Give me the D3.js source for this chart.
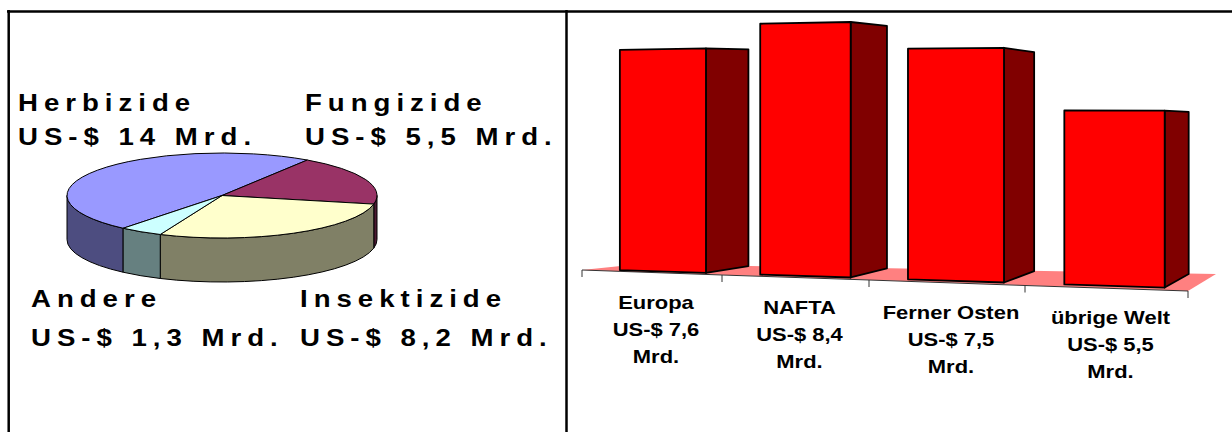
<!DOCTYPE html>
<html>
<head>
<meta charset="utf-8">
<script src="https://cdn.jsdelivr.net/npm/d3@7/dist/d3.min.js"></script>
<style>
  body { margin: 0; background: #fff; }
  svg { display: block; }
  text { font-family: "Liberation Sans", Arial, sans-serif; font-weight: bold; fill: #000; }
</style>
</head>
<body>
<div id="chart"></div>
<script>
// pie: world market by product group
const pieNames = ['Herbizide', 'Fungizide', 'Insektizide', 'Andere'];
const pieValues = [14, 5.5, 8.2, 1.3];
const pieTopColors = ['#9999ff', '#993366', '#ffffcc', '#ccffff'];
const pieSideColors = ['#4d4d80', '#4d1a33', '#808066', '#668080'];

// bars: market by region
const regions = ['Europa', 'NAFTA', 'Ferner Osten', 'übrige Welt'];
const regionValues = [7.6, 8.4, 7.5, 5.5];

const width = 1232, height = 432;
const fmt = v => String(v).replace('.', ',');

const svg = d3.select('#chart').append('svg')
    .attr('width', width)
    .attr('height', height);

// frame lines
const frame = svg.append('g').attr('stroke', '#000').attr('stroke-width', 2.5);
frame.append('line').attr('x1', 7).attr('x2', width).attr('y1', 11.5).attr('y2', 11.5);
frame.append('line').attr('x1', 8.7).attr('x2', 8.7).attr('y1', 10).attr('y2', height);
frame.append('line').attr('x1', 566.5).attr('x2', 566.5).attr('y1', 10).attr('y2', height);

// ---------- 3D pie ----------
const pieGeo = {cx: 222, cy: 195.5, rx: 155, ry: 42.5, depth: 44};
const firstAngle = 3.833; // Herbizide starts here (clockwise from 12 o'clock)

const arcs = d3.pie().sort(null)
    .startAngle(firstAngle)
    .endAngle(firstAngle + 2 * Math.PI)(pieValues);

function ellPt(a, dy) {
    return [pieGeo.cx + pieGeo.rx * Math.sin(a), pieGeo.cy - pieGeo.ry * Math.cos(a) + (dy || 0)];
}
const arcTo = (pt, large, sweep) => ` A ${pieGeo.rx} ${pieGeo.ry} 0 ${large} ${sweep} ${pt[0]} ${pt[1]}`;

const pieG = svg.append('g');

// side walls (only the front half is visible)
arcs.forEach(function (d, i) {
    for (let k = -1; k <= 1; k++) {
        const lo = Math.PI / 2 + 2 * Math.PI * k, hi = 3 * Math.PI / 2 + 2 * Math.PI * k;
        const s = Math.max(d.startAngle, lo), e = Math.min(d.endAngle, hi);
        if (e - s <= 0.001) continue;
        const t0 = ellPt(s), t1 = ellPt(e), b1 = ellPt(e, pieGeo.depth), b0 = ellPt(s, pieGeo.depth);
        pieG.append('path')
            .attr('d', `M${t0[0]},${t0[1]}` + arcTo(t1, 0, 1) + ` L${b1[0]},${b1[1]}` + arcTo(b0, 0, 0) + ' Z')
            .attr('fill', pieSideColors[i])
            .attr('stroke', '#000')
            .attr('stroke-width', 1);
    }
});

// top faces
arcs.forEach(function (d, i) {
    const t0 = ellPt(d.startAngle), t1 = ellPt(d.endAngle);
    const large = (d.endAngle - d.startAngle) > Math.PI ? 1 : 0;
    pieG.append('path')
        .attr('d', `M${pieGeo.cx},${pieGeo.cy} L${t0[0]},${t0[1]}` + arcTo(t1, large, 1) + ' Z')
        .attr('fill', pieTopColors[i])
        .attr('stroke', '#000')
        .attr('stroke-width', 1);
});

// pie labels (name + value), wide spaced like the original
const pieLabelPos = [[18, 111, 33.5], [305, 111, 33.5], [300, 307, 39], [31, 307, 39]];
pieNames.forEach(function (name, i) {
    const pos = pieLabelPos[i];
    [name, `US-$ ${fmt(pieValues[i])} Mrd.`].forEach(function (line, j) {
        svg.append('g')
            .attr('transform', `translate(${pos[0]},${pos[1] + j * pos[2]}) scale(1.2,1)`)
            .append('text')
            .style('font-size', '23px')
            .style('letter-spacing', '5px')
            .text(line);
    });
});

// ---------- 3D bars ----------
const band = d3.scaleBand().domain(regions).range([0, 1]);
const ticksU = [0, 0.25, 0.5, 0.75, 1];
// front edge of the floor, slightly in perspective
const xAlong = d3.scaleLinear().domain(ticksU).range([582, 722, 869, 1025, 1188]);
const yAlong = d3.scaleLinear().domain(ticksU).range([270, 275, 280, 285.5, 291]);
// depth direction on screen
const depthX = d3.scaleLinear().domain([0, 1]).range([58, 28]);
const depthY = d3.scaleLinear().domain([0, 1]).range([-6, -17]);
// value -> pixels, grows toward the viewer on the right, shrinks with depth
const yScale = d3.scaleLinear().domain([0, 10]).range([0, 289]);
const persp = d3.scaleLinear().domain([0, 1]).range([1, 1.136]);
const shrink = d3.scaleLinear().domain([0, 1]).range([0.025, 0.104]);

function proj(u, v, h) {
    return [
        xAlong(u) + depthX(u) * v,
        yAlong(u) + depthY(u) * v - yScale(h) * persp(u) * (1 - shrink(u) * v)
    ];
}
const poly = pts => 'M' + pts.map(p => p.join(',')).join('L') + 'Z';

const barG = svg.append('g');

// floor
barG.append('path')
    .attr('d', poly([proj(0, 0, 0), proj(1, 0, 0), proj(1, 1, 0), proj(0, 1, 0)]))
    .attr('fill', '#ff8080');

// axis along the front edge with ticks
barG.append('path')
    .attr('d', 'M' + ticksU.map(u => proj(u, 0, 0).join(',')).join('L'))
    .attr('fill', 'none')
    .attr('stroke', '#333')
    .attr('stroke-width', 1);
barG.selectAll('.tick')
    .data(ticksU)
    .enter().append('line')
    .attr('class', 'tick')
    .attr('x1', u => proj(u, 0, 0)[0])
    .attr('x2', u => proj(u, 0, 0)[0])
    .attr('y1', u => proj(u, 0, 0)[1])
    .attr('y2', u => proj(u, 0, 0)[1] + 7)
    .attr('stroke', '#333')
    .attr('stroke-width', 1);

const bw = band.bandwidth();
const v0 = 0.15, v1 = 0.97;

regions.forEach(function (r, i) {
    const h = regionValues[i];
    const u0 = band(r) + 0.21 * bw, u1 = band(r) + 0.83 * bw;

    // side face
    barG.append('path')
        .attr('d', poly([proj(u1, v0, 0), proj(u1, v1, 0), proj(u1, v1, h), proj(u1, v0, h)]))
        .attr('fill', '#800000')
        .attr('stroke', '#000')
        .attr('stroke-width', 1.8)
        .attr('stroke-linejoin', 'round');

    // front face
    barG.append('path')
        .attr('d', poly([proj(u0, v0, 0), proj(u1, v0, 0), proj(u1, v0, h), proj(u0, v0, h)]))
        .attr('fill', '#ff0000')
        .attr('stroke', '#000')
        .attr('stroke-width', 1.8)
        .attr('stroke-linejoin', 'round');

    // category label under the floor
    const uc = band(r) + bw / 2;
    const lx = xAlong(uc) + 4, ly = yAlong(uc) + 36;
    [r, `US-$ ${fmt(h)}`, 'Mrd.'].forEach(function (line, j) {
        barG.append('g')
            .attr('transform', `translate(${lx},${ly + j * 27}) scale(1.22,1)`)
            .append('text')
            .attr('text-anchor', 'middle')
            .style('font-size', '18px')
            .text(line);
    });
});
</script>
</body>
</html>
